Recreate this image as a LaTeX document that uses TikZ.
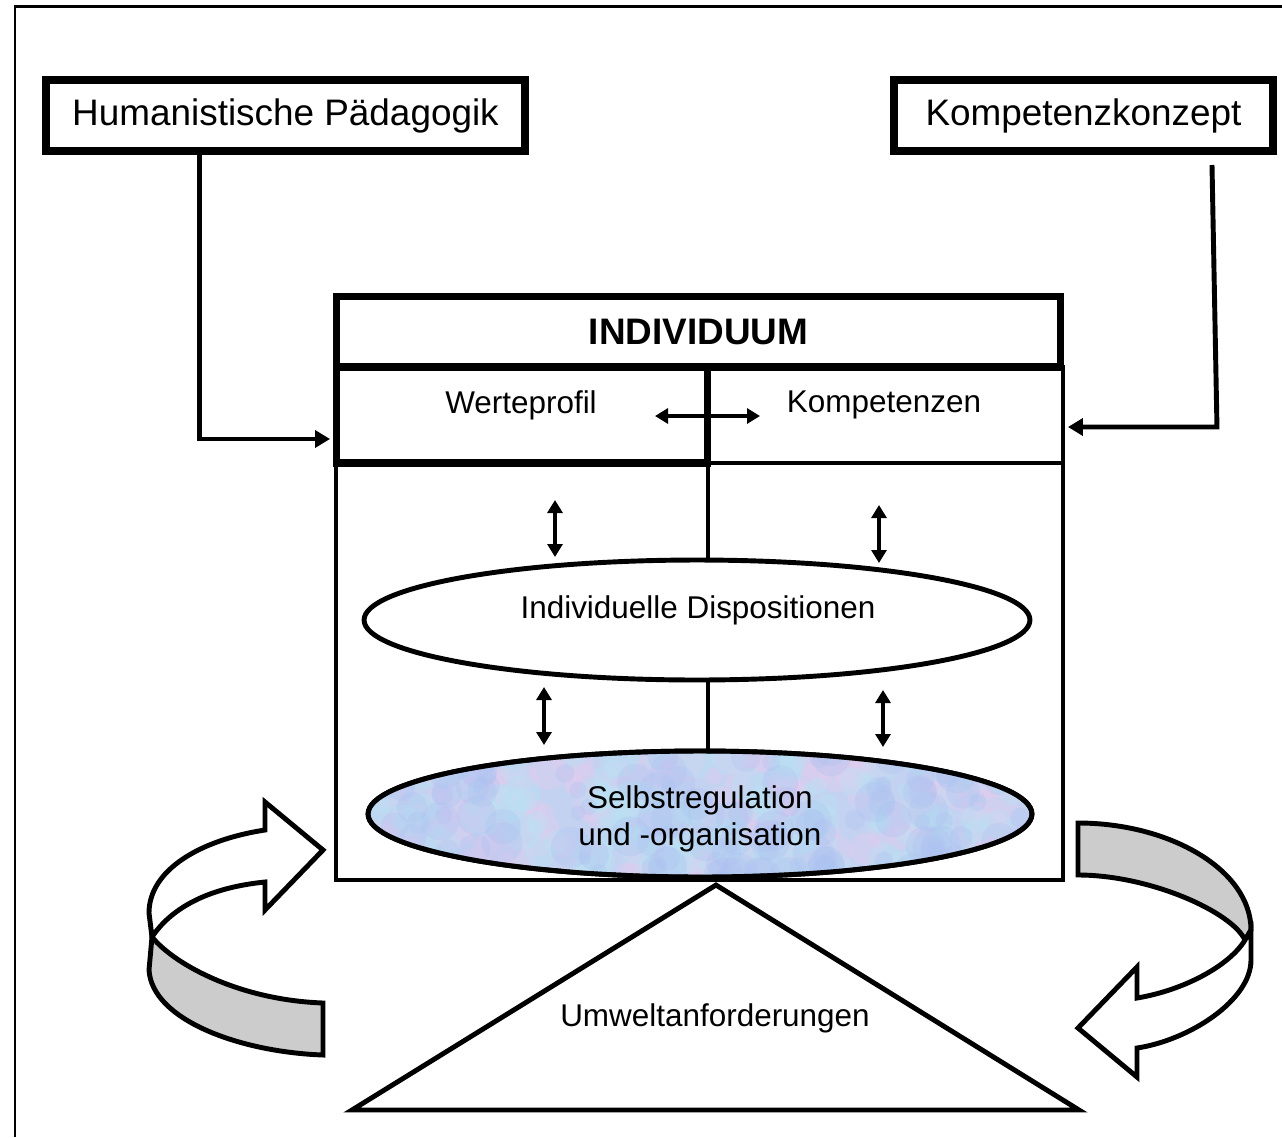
\documentclass[tikz,border=0pt]{standalone}
\usepackage{fontspec}
\setmainfont{Liberation Sans}
\usetikzlibrary{arrows.meta,shapes.geometric,calc}
\definecolor{bandgray}{RGB}{204,204,204}
\definecolor{selbst}{RGB}{196,210,242}
\definecolor{blobpink}{RGB}{230,204,238}
\definecolor{blobcyan}{RGB}{184,228,244}
\definecolor{blobblue}{RGB}{172,194,240}
\begin{document}
\begin{tikzpicture}[x=0.02cm,y=-0.02cm,
  bigfont/.style={font=\fontsize{21}{25}\selectfont},
  smallfont/.style={font=\fontsize{17.9}{21}\selectfont},
  srcbox/.style={draw, line width=4.5pt, inner sep=0pt, outer sep=0pt, minimum height=1.42cm, bigfont},
  cellbox/.style={draw, inner sep=0pt, outer sep=0pt, minimum height=1.92cm},
  oval/.style={ellipse, draw, line width=2.8pt, inner sep=0pt, outer sep=0pt},
  conn/.style={line width=2.8pt, -{Triangle[length=8.5pt,width=9.6pt]}},
  dbl/.style={line width=2.3pt, >={Triangle[length=7.4pt,width=8.5pt]}, <->},
  ribbon/.style={line width=2.8pt, line join=miter, miter limit=4},
]
\useasboundingbox (0,0) rectangle (1282,1137);
% outer frame
\draw[line width=1.7pt] (15,1137) -- (15,6) -- (1282,6);

% source boxes
\node[srcbox, minimum width=9.58cm] (hum) at (285.5,115.5) {Humanistische Pädagogik};
\node[srcbox, minimum width=7.58cm] (kk) at (1083.5,115.5) {Kompetenzkonzept};

% main box
\node[draw, line width=2.3pt, inner sep=0pt, outer sep=0pt, minimum width=14.54cm, minimum height=8.34cm] (main) at (699.5,671.5) {};
% cells
\node[cellbox, line width=4pt, minimum width=7.44cm] (wp) at (522,415) {};
\node[cellbox, line width=2.8pt, minimum width=7.1cm] (kc) at (885.5,415) {};
\node[smallfont] (wptext) at (521,405) {Werteprofil};
\node[smallfont] (kctext) at (884,405) {Kompetenzen};
\node[draw, line width=4pt, inner sep=0pt, outer sep=0pt, minimum width=14.5cm, minimum height=1.42cm,
      font=\fontsize{21}{25}\selectfont\bfseries] (ind) at (698.5,331.5) {INDIVIDUUM};

% ellipses
\node[oval, fill=white, minimum width=13.32cm, minimum height=2.4cm] (e1) at (697,620) {};
\node[smallfont] (e1text) at (698,610) {Individuelle Dispositionen};

\node[oval, fill=selbst, minimum width=13.28cm, minimum height=2.52cm] (e2) at (700,814) {};
\begin{scope}
  \clip (e2.center) ellipse [x radius=6.64cm, y radius=1.26cm];
  \pgfmathsetseed{17}
  \foreach \i in {1,...,140}{
    \pgfmathsetmacro{\bx}{368+664*rnd}
    \pgfmathsetmacro{\by}{751+126*rnd}
    \pgfmathsetmacro{\br}{0.12+0.3*rnd}
    \fill[blobpink, opacity=0.35] (\bx,\by) circle [radius=\br cm];
  }
  \foreach \i in {1,...,140}{
    \pgfmathsetmacro{\bx}{368+664*rnd}
    \pgfmathsetmacro{\by}{751+126*rnd}
    \pgfmathsetmacro{\br}{0.12+0.3*rnd}
    \fill[blobcyan, opacity=0.35] (\bx,\by) circle [radius=\br cm];
  }
  \foreach \i in {1,...,140}{
    \pgfmathsetmacro{\bx}{368+664*rnd}
    \pgfmathsetmacro{\by}{751+126*rnd}
    \pgfmathsetmacro{\br}{0.12+0.3*rnd}
    \fill[blobblue, opacity=0.3] (\bx,\by) circle [radius=\br cm];
  }
\end{scope}
\draw[line width=2.8pt] (e2.center) ellipse [x radius=6.64cm, y radius=1.26cm];
\node[smallfont, align=center] (e2text) at (700,819) {Selbstregulation\\und -organisation};

% centre lines
\draw[line width=2.5pt] (wp.south east) -- (wp.south east |- e1.north);
\draw[line width=2.5pt] (wp.south east |- e1.south) -- (wp.south east |- e2.north);

% double arrows
\draw[dbl] (655,416) -- (760,416);
\draw[dbl] (555,500) -- (555,557);
\draw[dbl] (879,505) -- (879,563);
\draw[dbl] (544,687) -- (544,745);
\draw[dbl] (883,690) -- (883,747);

% connectors
\draw[conn] ($(hum.south west)+(153,0)$) |- ($(wp.south west)+(-6,-24)$);
\coordinate (kkstart) at (1212,165);
\draw[conn] (kkstart) -- ($(kc.south east)+(154,-36)$) -- ($(kc.south east)+(5,-36)$);

% triangle
\draw[line width=2.8pt, line join=miter] (716,885) -- (1079,1110) -- (352,1110) -- cycle;
\node[smallfont] (umw) at (715,1018) {Umweltanforderungen};

% left ribbon arrow
\draw[ribbon, fill=bandgray] (152,937) .. controls (175,965) and (240,1000) .. (323,1003)
  -- (323,1055) .. controls (240,1052) and (152,1020) .. (149,970) -- cycle;
\draw[ribbon, fill=white] (323,850) -- (265,802) -- (265,830)
  .. controls (200,840) and (149,870) .. (149,913) -- (152,937)
  .. controls (170,910) and (205,888) .. (265,882) -- (265,910) -- cycle;

% right ribbon arrow
\draw[ribbon, fill=bandgray] (1078,823) .. controls (1170,823) and (1251,870) .. (1251,930)
  -- (1245,940) .. controls (1232,912) and (1150,875) .. (1078,875) -- cycle;
\draw[ribbon, fill=white] (1251,930) -- (1251,960)
  .. controls (1251,1000) and (1190,1040) .. (1137,1048) -- (1137,1077) -- (1078,1028)
  -- (1137,967) -- (1137,998) .. controls (1185,990) and (1230,965) .. (1245,940) -- cycle;
\end{tikzpicture}
\end{document}
